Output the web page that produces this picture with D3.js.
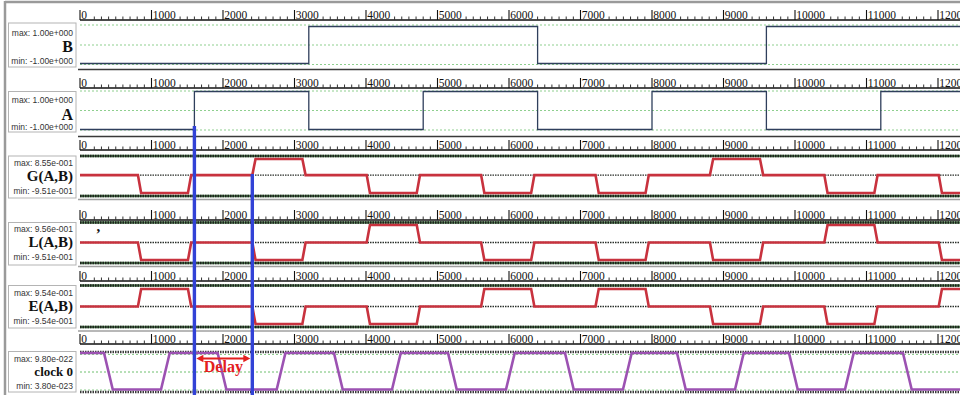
<!DOCTYPE html>
<html><head><meta charset="utf-8">
<script src="https://cdn.jsdelivr.net/npm/d3@7"></script>
<style>body{margin:0;background:#fff}svg{display:block}</style>
</head><body>
<svg id="c" width="960" height="395"></svg>
<script>
// ---------- data ----------
const tickLabels = [0,1000,2000,3000,4000,5000,6000,7000,8000,9000,10000,11000,12000];
const minorStep = 100;
const bTimes  = [0, 3200, 6400, 9600];
const bLevels = [-1, 1, -1, 1];
const aTimes  = [0, 1600, 3200, 4800, 6400, 8000, 9600, 11200];
const aLevels = [-1, 1, -1, 1, -1, 1, -1, 1];
const pulseStart = [810, 2410, 4010, 5610, 7210, 8810, 10410, 12010];
const pulseEnd   = [1510, 3110, 4710, 6310, 7910, 9510, 11110, 12710];
const pulseEdge  = 45;
const gLevels = [-0.951, 0.855, -0.951, -0.951, -0.951, 0.855, -0.951, -0.951];
const lLevels = [-0.951, -0.951, 0.956, -0.951, -0.951, -0.951, 0.956, -0.951];
const eLevels = [0.954, -0.954, -0.954, 0.954, 0.954, -0.954, -0.954, 0.954];
const clockFall = [336, 1925, 3552, 5147, 6783, 8350, 9916, 11510];
const clockRise = [1133, 2751, 4364, 5958, 7594, 9161, 10699];
const clockEdge = 122;
const clockHigh = 9.80e-22, clockLow = 3.80e-23;
const delayTimes = [1600, 2410];
const signalNames = ["B", "A", "G(A,B)", "L(A,B)", "E(A,B)", "clock 0"];
const maxLabels = ["max: 1.00e+000","max: 1.00e+000","max: 8.55e-001","max: 9.56e-001","max: 9.54e-001","max: 9.80e-022"];
const minLabels = ["min: -1.00e+000","min: -1.00e+000","min: -9.51e-001","min: -9.51e-001","min: -9.54e-001","min: 3.80e-023"];
const delayLabel = "Delay";

// ---------- layout ----------
const W = 960, H = 395;
const layout = [
  {axisY:20,  gTop:25,    gBot:64.5, hiPx:26.5, loPx:63.5, boxT:23,   boxB:67,  sep:69.5,  kind:'ab',  nameSize:16, ty:[35.5,52,63.5]},
  {axisY:88,  gTop:91,    gBot:130,  hiPx:91.5, loPx:129.5,boxT:91.5, boxB:132, sep:136.5, kind:'ab',  nameSize:16, ty:[102.5,119.5,130]},
  {axisY:150, gTop:156,   gBot:196,  hiPx:159,  loPx:193,  boxT:156,  boxB:198, sep:199.5, kind:'cmp', nameSize:15, ty:[165.5,180.5,194]},
  {axisY:220, gTop:222.5, gBot:263,  hiPx:225,  loPx:260,  boxT:222.5,boxB:265, sep:266.5, kind:'cmp', nameSize:15, ty:[232,246.5,259.5]},
  {axisY:281, gTop:285.5, gBot:327,  hiPx:289,  loPx:324,  boxT:285.5,boxB:328, sep:331,   kind:'cmp', nameSize:15, ty:[296,310.5,324]},
  {axisY:344, gTop:352,   gBot:392,  hiPx:353,  loPx:389.5,boxT:351.5,boxB:392, sep:null,  kind:'clk', nameSize:13, ty:[361.5,375.5,388.5]}
];

const svg = d3.select('#c');
svg.append('rect').attr('width', W).attr('height', H).attr('fill', '#fff');
svg.append('defs').append('clipPath').attr('id', 'clipW')
  .append('rect').attr('x', 78).attr('y', 0).attr('width', W - 78).attr('height', H);

const x = d3.scaleLinear()
  .domain([tickLabels[0], tickLabels[tickLabels.length - 1]])
  .range([80, 938]);

// outer frame
svg.append('line').attr('x1', 5).attr('x2', W).attr('y1', 2).attr('y2', 2)
  .attr('stroke', '#9a9a9a').attr('stroke-width', 2.5);
svg.append('line').attr('x1', 5).attr('x2', 5).attr('y1', 1).attr('y2', H)
  .attr('stroke', '#9a9a9a').attr('stroke-width', 2.5);

function ruler(axisY) {
  const g = svg.append('g');
  g.append('line').attr('x1', 80).attr('x2', W).attr('y1', axisY).attr('y2', axisY)
    .attr('stroke', '#111').attr('stroke-width', 1.6);
  const spans = [];
  tickLabels.forEach(t => {
    const xx = x(t);
    g.append('line').attr('x1', xx).attr('x2', xx).attr('y1', axisY - 10).attr('y2', axisY)
      .attr('stroke', '#111').attr('stroke-width', 1.1);
    const tx = g.append('text').attr('x', xx + 1.3).attr('y', axisY - 1.2)
      .attr('font-family', 'Liberation Serif, serif').attr('font-size', 11.5)
      .attr('fill', '#111').text(t);
    spans.push([xx - 0.5, xx + 2.5 + tx.node().getComputedTextLength()]);
  });
  d3.range(0, 13000, minorStep).forEach(t => {
    const xx = x(t);
    if (xx > W) return;
    if (spans.some(s => xx >= s[0] && xx <= s[1])) return;
    g.append('line').attr('x1', xx).attr('x2', xx).attr('y1', axisY - 3.5).attr('y2', axisY)
      .attr('stroke', '#333').attr('stroke-width', 1);
  });
}

function hline(y, stroke, width, dash) {
  const l = svg.append('line').attr('x1', 80).attr('x2', W).attr('y1', y).attr('y2', y)
    .attr('stroke', stroke).attr('stroke-width', width);
  if (dash) l.attr('stroke-dasharray', dash);
  return l;
}

function labelBox(i) {
  const L = layout[i];
  svg.append('rect').attr('x', 8.5).attr('y', L.boxT).attr('width', 67.5).attr('height', L.boxB - L.boxT)
    .attr('fill', '#fff').attr('stroke', '#b4b4b4').attr('stroke-width', 1);
  svg.append('text').attr('x', 73).attr('y', L.ty[0]).attr('text-anchor', 'end')
    .attr('font-family', 'Liberation Sans, Arial, sans-serif').attr('font-size', 8.5)
    .attr('fill', '#333').text(maxLabels[i]);
  svg.append('text').attr('x', 73).attr('y', L.ty[1]).attr('text-anchor', 'end')
    .attr('font-family', 'Liberation Serif, serif').attr('font-weight', 'bold')
    .attr('font-size', L.nameSize).attr('fill', '#111').text(signalNames[i]);
  svg.append('text').attr('x', 73).attr('y', L.ty[2]).attr('text-anchor', 'end')
    .attr('font-family', 'Liberation Sans, Arial, sans-serif').attr('font-size', 8.5)
    .attr('fill', '#333').text(minLabels[i]);
}

function yScale(i, dom) {
  const L = layout[i];
  return d3.scaleLinear().domain(dom).range([L.loPx, L.hiPx]);
}

function stepPoints(times, levels) {
  const pts = times.map((t, i) => [t, levels[i]]);
  pts.push([13000, levels[levels.length - 1]]);
  return pts;
}
function pulsePoints(levels) {
  const pts = [[0, 0]];
  pulseStart.forEach((s, i) => {
    pts.push([s, 0], [s + pulseEdge, levels[i]], [pulseEnd[i], levels[i]], [pulseEnd[i] + pulseEdge, 0]);
  });
  pts.push([13500, 0]);
  return pts;
}
function clockPoints() {
  const pts = [[0, clockHigh]];
  clockFall.forEach((f, i) => {
    pts.push([f, clockHigh], [f + clockEdge, clockLow]);
    if (i < clockRise.length) pts.push([clockRise[i], clockLow], [clockRise[i] + clockEdge, clockHigh]);
  });
  pts.push([13000, clockLow]);
  return pts;
}

const series = [
  {pts: stepPoints(bTimes, bLevels), dom: d3.extent(bLevels), curve: d3.curveStepAfter},
  {pts: stepPoints(aTimes, aLevels), dom: d3.extent(aLevels), curve: d3.curveStepAfter},
  {pts: pulsePoints(gLevels), dom: d3.extent(gLevels), curve: d3.curveLinear},
  {pts: pulsePoints(lLevels), dom: d3.extent(lLevels), curve: d3.curveLinear},
  {pts: pulsePoints(eLevels), dom: d3.extent(eLevels), curve: d3.curveLinear},
  {pts: clockPoints(), dom: [clockLow, clockHigh], curve: d3.curveLinear}
];

layout.forEach((L, i) => {
  ruler(L.axisY);
  const y = yScale(i, series[i].dom);
  const midY = (L.kind === 'clk') ? (L.gTop + L.gBot) / 2 : y(0);
  if (L.kind === 'ab') {
    hline(L.gTop, '#8fcf8f', 1, '2,2');
    hline(midY, '#8fcf8f', 1, '2,2');
    hline(L.gBot, '#8fcf8f', 1, '2,2');
  } else if (L.kind === 'cmp') {
    hline(L.gTop, '#4f7a4f', 2.6);
    hline(L.gTop, '#1d221d', 2.6, '1.5,1');
    hline(midY, '#2a2f2a', 1.4, '1.5,1');
    hline(L.gBot, '#4f7a4f', 2.6);
    hline(L.gBot, '#1d221d', 2.6, '1.5,1');
  } else {
    hline(L.gTop, '#3a3a3a', 2.6, '1.5,1');
    hline(L.gTop + 2.5, '#8fcf8f', 1, '2,2');
    hline(midY, '#6fbf6f', 1, '2,2');
    hline(L.gBot - 2, '#8fcf8f', 1, '2,2');
    hline(L.gBot, '#3a3a3a', 2.6, '1.5,1');
  }
  const line = d3.line().x(d => x(d[0])).y(d => y(d[1])).curve(series[i].curve);
  const color = L.kind === 'ab' ? '#2f3f5c' : (L.kind === 'cmp' ? '#c8323e' : '#9c52b2');
  const width = L.kind === 'ab' ? 1.3 : 2.6;
  svg.append('path').attr('d', line(series[i].pts)).attr('fill', 'none')
    .attr('stroke', color).attr('stroke-width', width).attr('stroke-linejoin', 'miter')
    .attr('clip-path', 'url(#clipW)');
  if (L.sep !== null) {
    svg.append('line').attr('x1', 78).attr('x2', W).attr('y1', L.sep).attr('y2', L.sep)
      .attr('stroke', L.kind === 'ab' ? '#3a3a3a' : '#a0a0a0').attr('stroke-width', 1.4);
  }
  labelBox(i);
});

// stray mark in L panel
svg.append('text').attr('x', 96.5).attr('y', 231).attr('font-family', 'Liberation Serif, serif')
  .attr('font-weight', 'bold').attr('font-size', 15).attr('fill', '#111').text(',');

// delay annotation
const dx1 = x(delayTimes[0]), dx2 = x(delayTimes[1]);
svg.append('line').attr('x1', dx1).attr('x2', dx1).attr('y1', 126).attr('y2', H)
  .attr('stroke', '#3242d6').attr('stroke-width', 3.4);
svg.append('line').attr('x1', dx2).attr('x2', dx2).attr('y1', 174).attr('y2', H)
  .attr('stroke', '#3242d6').attr('stroke-width', 3.4);
const ay = 358.5, ax1 = dx1 + 2, ax2 = dx2 - 2, hl = 7, hw = 3.8;
const red = '#e3201e';
svg.append('line').attr('x1', ax1 + hl - 1).attr('x2', ax2 - hl + 1).attr('y1', ay).attr('y2', ay)
  .attr('stroke', red).attr('stroke-width', 2);
svg.append('path').attr('d', `M${ax1},${ay}L${ax1 + hl},${ay - hw}L${ax1 + hl},${ay + hw}Z`).attr('fill', red);
svg.append('path').attr('d', `M${ax2},${ay}L${ax2 - hl},${ay - hw}L${ax2 - hl},${ay + hw}Z`).attr('fill', red);
svg.append('text').attr('x', (dx1 + dx2) / 2).attr('y', 371.5).attr('text-anchor', 'middle')
  .attr('font-family', 'Liberation Serif, serif').attr('font-weight', 'bold').attr('font-size', 16)
  .attr('fill', red).text(delayLabel);
</script>
</body></html>
